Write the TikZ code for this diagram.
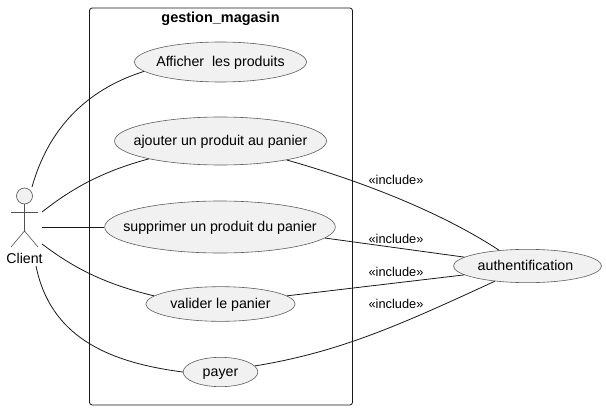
\documentclass[tikz,border=0pt]{standalone}
\usepackage{fontspec}
\setmainfont{Liberation Sans}
\usetikzlibrary{shapes.geometric}
\definecolor{ucfill}{HTML}{F1F1F1}
\definecolor{ucline}{HTML}{181818}
\newcommand{\uctext}[1]{\makebox[0pt]{#1}}
\tikzset{
  usecase/.style={ellipse,draw=ucline!70,fill=ucfill,line width=0.45pt,inner sep=0pt,text height=9pt,text depth=2pt,font=\fontsize{10.65}{12}\selectfont},
  link/.style={ucline,line width=0.6pt},
  stick/.style={ucline!75,line width=0.45pt},
  inclabel/.style={font=\fontsize{9.6}{11}\selectfont,inner sep=0pt}
}
\begin{document}
\begin{tikzpicture}[x=0.75pt,y=-0.75pt]
     \useasboundingbox (0,0) rectangle (606,410);
     % system box
     \draw[ucline,line width=0.6pt,rounded corners=2pt] (89.5,8) rectangle (352.5,405);
     \node[font=\bfseries\fontsize{10.85}{12}\selectfont,inner sep=0pt] (title) at (220.5,19) {gestion\_magasin};
     % use cases
     \node[usecase,minimum width=129pt,minimum height=30pt] (afficher)  at (220.5,62)  {\uctext{Afficher\ \ les produits}};
     \node[usecase,minimum width=159pt,minimum height=36pt] (ajouter)   at (220.5,141) {\uctext{ajouter un produit au panier}};
     \node[usecase,minimum width=173pt,minimum height=39pt] (supprimer) at (220,227) {\uctext{supprimer un produit du panier}};
     \node[usecase,minimum width=112pt,minimum height=26pt] (valider)   at (220.5,304) {\uctext{valider le panier}};
     \node[usecase,minimum width=56pt,minimum height=22pt]  (payer)     at (220.5,372) {\uctext{payer}};
     \node[usecase,minimum width=111pt,minimum height=25pt] (auth)      at (527.5,266) {\uctext{authentification\hspace{3pt}}};
     % actor
     \node[circle,draw=ucline!75,fill=ucfill,line width=0.45pt,minimum size=12pt,inner sep=0pt] (head) at (24.5,196) {};
     \coordinate (hip)   at (24.5,231);
     \coordinate (armL)  at (11,212);
     \coordinate (armR)  at (38,212);
     \coordinate (legL)  at (11,247);
     \coordinate (legR)  at (38,247);
     \draw[stick] (head) -- (hip);
     \draw[stick] (armL) -- (armR);
     \draw[stick] (legL) -- (hip) -- (legR);
     \node[font=\fontsize{10.65}{12}\selectfont,inner sep=0pt] (client) at (24.5,258) {Client};
     % actor ends of the links
     \coordinate (c1) at (32,187);
     \coordinate (c2) at (42,212);
     \coordinate (c3) at (42,227);
     \coordinate (c4) at (42,244);
     \coordinate (c5) at (36,266);
     \draw[link] (c1) .. controls (48,130) and (85,90) .. (afficher.187);
     \draw[link] (c2) .. controls (70,190) and (100,172) .. (ajouter.194);
     \draw[link] (c3) -- (supprimer.west);
     \draw[link] (c4) .. controls (70,265) and (100,283) .. (valider.173);
     \draw[link] (c5) .. controls (50,335) and (105,362) .. (payer.180);
     % includes
     \draw[link] (ajouter.-16) .. controls (340,175) and (430,205) .. (auth.151);
     \draw[link] (supprimer.-6) -- (auth.172);
     \draw[link] (valider.7) -- (auth.188);
     \draw[link] (payer.10) .. controls (340,352) and (400,325) .. (auth.205);
     \foreach \n/\y in {a/180,b/239,c/272,d/304} {
      \node[inclabel] (inc\n) at (396,\y) {«include»};
     }
\end{tikzpicture}
\end{document}
